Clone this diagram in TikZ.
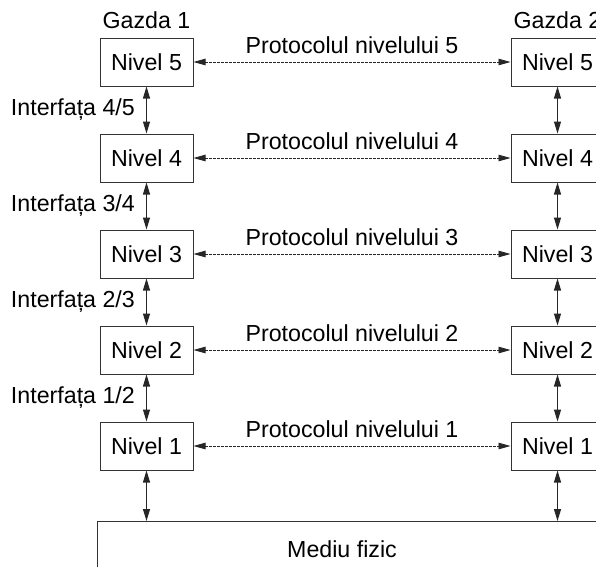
\documentclass[tikz,border=0pt]{standalone}
\usepackage{fontspec}
\setmainfont{Liberation Sans}
\usetikzlibrary{arrows.meta}
\begin{document}
\begin{tikzpicture}[x=1pt,y=-1pt,
  every node/.style={font=\fontsize{23.2}{27}\selectfont, inner sep=0pt, text=black},
  layerbox/.style={draw=black!80, line width=1pt, minimum width=93pt, minimum height=48pt},
  iface/.style={draw=black!85, line width=1.1pt, {Triangle[length=12pt,width=7pt]}-{Triangle[length=12pt,width=7pt]}},
  peer/.style={draw=black!85, line width=0.8pt, dash pattern=on 2.5pt off 1.5pt,
    {Triangle[length=12pt,width=6.5pt]}-{Triangle[length=12pt,width=6.5pt]}},
  plabel/.style={midway, yshift=17pt},
  ilabel/.style={anchor=east}]
\clip (0,0) rectangle (596,566);

% host headings
\node (g1) at (146.5,20) {Gazda 1};
\node (g2) at (557.5,20) {Gazda 2};

% layer boxes of both hosts
\foreach \n/\y in {5/62,4/158,3/254,2/350,1/446}{
  \node[layerbox] (L\n) at (146.5,\y) {Nivel \n};
  \node[layerbox] (R\n) at (557.5,\y) {Nivel \n};
}

% peer protocols between the hosts
\foreach \n in {5,4,3,2,1}{
  \draw[peer] (L\n.east) -- (R\n.west) node[plabel] (p\n) {Protocolul nivelului \n};
}

% interfaces between adjacent layers
\foreach \a/\b/\y in {5/4/110,4/3/206,3/2/302,2/1/398}{
  \draw[iface] (L\a.south) -- (L\b.north);
  \draw[iface] (R\a.south) -- (R\b.north);
  \node[ilabel] (i\b) at (135,\y) {Interfața \b/\a};
}

% physical medium
\coordinate (mtl) at (97,521);
\coordinate (mbl) at (97,570);
\coordinate (mtr) at (600,521);
\draw[draw=black!80, line width=1pt] (mbl) -- (mtl) -- (mtr);
\node (med) at (342,549) {Mediu fizic};
\coordinate (m1) at (146.5,521);
\coordinate (m2) at (557.5,521);
\draw[iface] (L1.south) -- (m1);
\draw[iface] (R1.south) -- (m2);
\end{tikzpicture}
\end{document}
